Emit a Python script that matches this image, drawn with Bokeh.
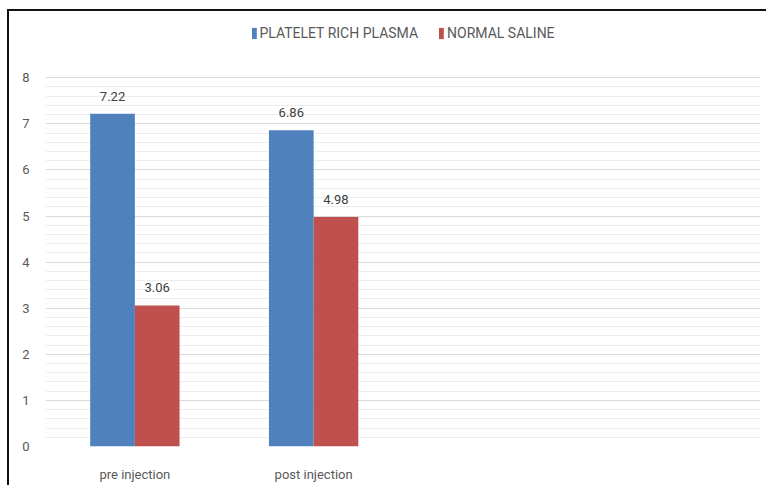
from bokeh.plotting import figure
from bokeh.models import (ColumnDataSource, Range1d, FactorRange, FixedTicker,
                          Legend, LegendItem, LabelSet)
from bokeh.transform import dodge
from bokeh.core.properties import value
from bokeh.embed import file_html
from bokeh.resources import INLINE

categories = ["pre injection", "post injection", " ", "  "]
groups = ["pre injection", "post injection"]
platelet_rich_plasma = [7.22, 6.86]
normal_saline = [3.06, 4.98]
series_names = ["PLATELET RICH PLASMA", "NORMAL SALINE"]
y_ticks = [0, 1, 2, 3, 4, 5, 6, 7, 8]
y_minor_ticks = [i / 5 for i in range(41)]

FONT = "Roboto"
BLUE = "#4f81bd"
RED = "#c0504d"

src = ColumnDataSource(dict(
    x=groups,
    prp=platelet_rich_plasma,
    ns=normal_saline,
    prp_t=[f"{v:.2f}" for v in platelet_rich_plasma],
    ns_t=[f"{v:.2f}" for v in normal_saline],
))

p = figure(x_range=FactorRange(*categories), y_range=Range1d(0, 9.35),
           width=759, height=476, output_backend="svg", toolbar_location=None,
           min_border_left=36, min_border_right=8, min_border_top=4, min_border_bottom=41)
p.styles = {"border-style": "solid none none solid", "border-width": "2px 0px 0px 2px",
            "border-color": "#111111", "border-right": "none", "border-bottom": "none",
            "margin-left": "7px", "margin-top": "9px"}
p.outline_line_color = None
p.background_fill_color = "white"
p.border_fill_color = "white"

r1 = p.vbar(x=dodge("x", -0.125, range=p.x_range), top="prp", width=0.25, source=src,
            fill_color=BLUE, line_color=None)
r2 = p.vbar(x=dodge("x", 0.125, range=p.x_range), top="ns", width=0.25, source=src,
            fill_color=RED, line_color=None)

for col, off in (("prp_t", -0.125), ("ns_t", 0.125)):
    top = "prp" if col == "prp_t" else "ns"
    p.add_layout(LabelSet(x=dodge("x", off, range=p.x_range), y=top, text=col, source=src,
                          y_offset=13, text_align="center", text_baseline="bottom",
                          text_font=value(FONT), text_font_size="13px", text_color="#404040"))

p.yaxis.ticker = FixedTicker(ticks=y_ticks, minor_ticks=y_minor_ticks)
p.ygrid.grid_line_color = "#d9d9d9"
p.ygrid.minor_grid_line_color = "#eeeeee"
p.xgrid.grid_line_color = None

for ax in (p.xaxis, p.yaxis):
    ax.axis_line_color = None
    ax.major_tick_line_color = None
    ax.minor_tick_line_color = None
    ax.major_label_text_font = FONT
    ax.major_label_text_font_size = "13px"
    ax.major_label_text_color = "#595959"
p.yaxis.major_label_standoff = 10
p.xaxis.major_label_standoff = 14

legend = Legend(items=[LegendItem(label=series_names[0], renderers=[r1]),
                       LegendItem(label=series_names[1], renderers=[r2])],
                orientation="horizontal", location="top_center",
                border_line_color=None, background_fill_alpha=0,
                glyph_width=6, glyph_height=14, spacing=20, label_standoff=3,
                label_text_font=FONT, label_text_font_size="14px",
                label_text_color="#595959", margin=10, padding=4)
p.add_layout(legend)

open("out.html", "w").write(file_html(p, INLINE))
